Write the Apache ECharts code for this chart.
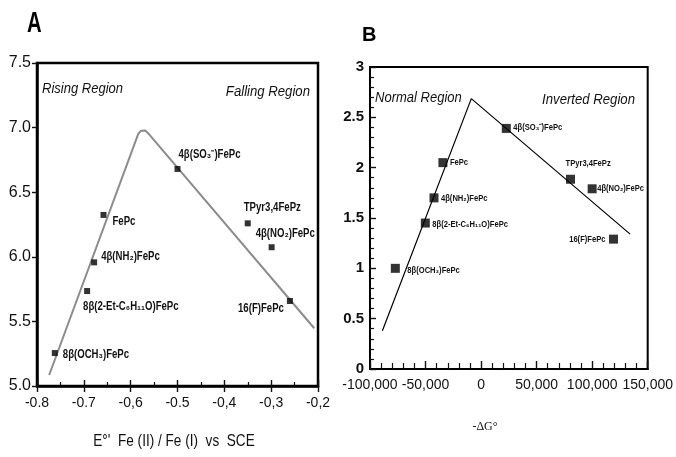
<!DOCTYPE html>
<html>
<head>
<meta charset="utf-8">
<script src="https://cdn.jsdelivr.net/npm/echarts@6/dist/echarts.min.js"></script>
<style>
html,body{margin:0;padding:0;background:#fff;}
#chart{width:676px;height:457px;}
</style>
</head>
<body>
<div id="chart"></div>
<script>
// ---------- Panel A data ----------
const namesA = ['8β(OCH₃)FePc', '8β(2-Et-C₆H₁₁O)FePc', '4β(NH₂)FePc', 'FePc', '4β(SO₃⁻)FePc', 'TPyr3,4FePz', '4β(NO₂)FePc', '16(F)FePc'];
const xA = [-0.762, -0.693, -0.678, -0.658, -0.500, -0.350, -0.299, -0.260];
const yA = [5.255, 5.735, 5.957, 6.324, 6.680, 6.259, 6.074, 5.658];
const lineAX = [-0.774, -0.584, -0.578, -0.569, -0.561, -0.208];
const lineAY = [5.085, 6.950, 6.976, 6.978, 6.950, 5.447];
const tickLabelsAX = ['-0.8', '-0.7', '-0,6', '-0.5', '-0,4', '-0,3', '-0,2'];
const tickLabelsAY = ['5.0', '5.5', '6.0', '6.5', '7.0', '7.5'];

// ---------- Panel B data ----------
const namesB = ['8β(OCH₃)FePc', '8β(2-Et-C₆H₁₁O)FePc', '4β(NH₂)FePc', 'FePc', '4β(SO₃⁻)FePc', 'TPyr3,4FePz', '4β(NO₂)FePc', '16(F)FePc'];
const xB = [-77200, -50200, -42400, -34350, 22700, 80500, 100000, 119200];
const yB = [1.00, 1.45, 1.70, 2.05, 2.39, 1.885, 1.79, 1.29];
const lineBX = [-88850, -8800, 134200];
const lineBY = [0.38, 2.686, 1.34];
const tickLabelsBX = ['-100,000', '-50,000', '0', '50,000', '100,000', '150,000'];
const tickLabelsBY = ['0', '0.5', '1', '1.5', '2', '2.5', '3'];

// ---------- label placement (style, px offsets from the point) ----------
const labelPlaceA = [[8,2,'left'],[-4,16,'left'],[7,-6,'left'],[9,7,'left'],[1,-14,'left'],[-4,-16,'left'],[-16,-14,'left'],[-6,8,'right']];
const labelPlaceB = [[12,2,'left'],[7,1,'left'],[7,1,'left'],[7,0,'left'],[7,-1,'left'],[-5,-16,'left'],[5,0,'left'],[-8,0,'right']];

const SANS = "'Liberation Sans',Arial,sans-serif";

function labelSeries(xAxisIndex, yAxisIndex, xs, ys, names, place, fontSize, scaleX) {
  return {
    type: 'custom', xAxisIndex: xAxisIndex, yAxisIndex: yAxisIndex, z: 5, silent: true,
    data: xs.map((x, i) => [x, ys[i], i]),
    renderItem: function (params, api) {
      const i = api.value(2);
      const p = api.coord([api.value(0), api.value(1)]);
      const pl = place[i];
      return {
        type: 'text', x: p[0] + pl[0], y: p[1] + pl[1], scaleX: scaleX,
        style: {
          text: names[i], fill: '#111',
          font: 'bold ' + fontSize + 'px ' + SANS,
          align: pl[2], verticalAlign: 'middle',
          textAlign: pl[2], textVerticalAlign: 'middle'
        }
      };
    }
  };
}

const chart = echarts.init(document.getElementById('chart'), null, {renderer: 'canvas'});

const tickStyle = {color: '#111', width: 1.4};
const minorStyle = {color: '#111', width: 1.2};

const option = {
  animation: false,
  backgroundColor: '#fff',
  grid: [
    {left: 37, top: 63, width: 281, height: 323, show: true, borderColor: '#000', borderWidth: 2.5, backgroundColor: 'transparent'},
    {left: 370, top: 67, width: 278, height: 302, show: true, borderColor: '#000', borderWidth: 2, backgroundColor: 'transparent'}
  ],
  xAxis: [
    {
      gridIndex: 0, type: 'value', min: -0.8, max: -0.2, interval: 0.1, position: 'bottom',
      axisLine: {show: true, onZero: false, lineStyle: {color: '#000', width: 2.5}},
      axisTick: {show: true, inside: false, length: 6, lineStyle: tickStyle},
      axisLabel: {margin: 10, fontFamily: SANS, fontSize: 14, color: '#111',
        formatter: v => tickLabelsAX[Math.round((v + 0.8) / 0.1)]},
      splitLine: {show: false}
    },
    {
      gridIndex: 0, type: 'value', min: -0.8, max: -0.2, interval: 0.1, position: 'bottom',
      axisLine: {show: false, onZero: false},
      axisTick: {show: true, inside: true, length: 6, lineStyle: tickStyle},
      minorTick: {show: true, splitNumber: 2, length: 4, lineStyle: minorStyle},
      axisLabel: {show: false},
      splitLine: {show: false}
    },
    {
      gridIndex: 1, type: 'value', min: -100000, max: 150000, interval: 50000, position: 'bottom',
      axisLine: {show: true, onZero: false, lineStyle: {color: '#000', width: 2}},
      axisTick: {show: true, inside: true, length: 8, lineStyle: tickStyle},
      minorTick: {show: true, splitNumber: 5, length: 6, lineStyle: minorStyle},
      axisLabel: {margin: 9, fontFamily: SANS, fontSize: 14, color: '#111',
        formatter: v => tickLabelsBX[Math.round((v + 100000) / 50000)]},
      splitLine: {show: false}
    }
  ],
  yAxis: [
    {
      gridIndex: 0, type: 'value', min: 5, max: 7.5, interval: 0.5,
      axisLine: {show: true, onZero: false, lineStyle: {color: '#000', width: 2.5}},
      axisTick: {show: true, inside: false, length: 5, lineStyle: tickStyle},
      axisLabel: {margin: 6, fontFamily: SANS, fontSize: 16, color: '#111',
        formatter: v => tickLabelsAY[Math.round((v - 5) / 0.5)]},
      splitLine: {show: false}
    },
    {
      gridIndex: 1, type: 'value', min: 0, max: 3, interval: 0.5,
      axisLine: {show: true, onZero: false, lineStyle: {color: '#000', width: 2}},
      axisTick: {show: true, inside: true, length: 6, lineStyle: tickStyle},
      minorTick: {show: true, splitNumber: 5, length: 4, lineStyle: minorStyle},
      axisLabel: {margin: 6, fontFamily: SANS, fontSize: 15, fontWeight: 'bold', color: '#111',
        formatter: v => tickLabelsBY[Math.round(v / 0.5)]},
      splitLine: {show: false}
    }
  ],
  series: [
    {
      type: 'line', xAxisIndex: 0, yAxisIndex: 0, symbol: 'none',
      lineStyle: {color: '#8c8c8c', width: 2}, z: 2,
      data: lineAX.map((x, i) => [x, lineAY[i]])
    },
    {
      type: 'scatter', xAxisIndex: 0, yAxisIndex: 0, symbol: 'rect', symbolSize: 6,
      itemStyle: {color: '#000'}, z: 3,
      data: xA.map((x, i) => [x, yA[i]])
    },
    labelSeries(0, 0, xA, yA, namesA, labelPlaceA, 12, 0.8),
    {
      type: 'line', xAxisIndex: 2, yAxisIndex: 1, symbol: 'none',
      lineStyle: {color: '#000', width: 1.2}, z: 2,
      data: lineBX.map((x, i) => [x, lineBY[i]])
    },
    {
      type: 'scatter', xAxisIndex: 2, yAxisIndex: 1, symbol: 'rect', symbolSize: 9,
      itemStyle: {color: '#000'}, z: 3,
      data: xB.map((x, i) => [x, yB[i]])
    },
    labelSeries(2, 1, xB, yB, namesB, labelPlaceB, 9.5, 0.8)
  ],
  graphic: [
    {type: 'text', x: 27, y: 24, scaleX: 0.7, style: {text: 'A', fontFamily: SANS, fontWeight: 'bold', fontSize: 29, fill: '#000', textVerticalAlign: 'middle'}},
    {type: 'text', left: 362, top: 25, style: {text: 'B', fontFamily: SANS, fontWeight: 'bold', fontSize: 20, fill: '#000'}},
    {type: 'text', x: 42, y: 89, scaleX: 0.93, style: {text: 'Rising Region', fontFamily: SANS, fontStyle: 'italic', fontSize: 14, fill: '#111', textVerticalAlign: 'middle'}},
    {type: 'text', x: 310, y: 92, scaleX: 0.94, style: {text: 'Falling Region', fontFamily: SANS, fontStyle: 'italic', fontSize: 14, fill: '#111', textAlign: 'right', textVerticalAlign: 'middle'}},
    {type: 'text', x: 375, y: 98, scaleX: 0.93, style: {text: 'Normal Region', fontFamily: SANS, fontStyle: 'italic', fontSize: 14, fill: '#111', textVerticalAlign: 'middle'}},
    {type: 'text', x: 635, y: 100, scaleX: 0.94, style: {text: 'Inverted Region', fontFamily: SANS, fontStyle: 'italic', fontSize: 14, fill: '#111', textAlign: 'right', textVerticalAlign: 'middle'}},
    {type: 'text', x: 174, y: 441, scaleX: 0.8, style: {text: "E°'  Fe (II) / Fe (I)  vs  SCE", fontFamily: SANS, fontSize: 17, fill: '#111', textAlign: 'center', textVerticalAlign: 'middle'}},
    {type: 'text', x: 485, y: 427, style: {text: '-ΔG°', fontFamily: "'Liberation Serif','Times New Roman',serif", fontSize: 12, fill: '#111', textAlign: 'center', textVerticalAlign: 'middle'}}
  ]
};
chart.setOption(option);
</script>
</body>
</html>
